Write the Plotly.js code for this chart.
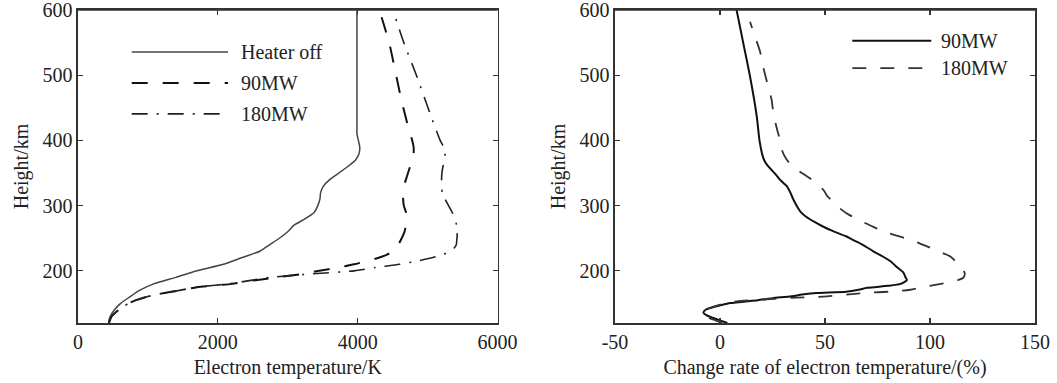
<!DOCTYPE html>
<html><head><meta charset="utf-8">
<script src="https://cdn.plot.ly/plotly-3.0.1.min.js"></script>
<style>html,body{margin:0;padding:0;background:#fff;overflow:hidden;width:1057px;height:383px;} #chart{width:1057px;height:383px;display:block;position:absolute;left:0;top:0;}</style>
</head><body><div id="chart"></div>
<script>
// ---- Left panel: electron temperature profiles ----
const heightOff = [120,125,130,140,150,160,170,180,190,200,210,220,230,240,250,260,270,280,290,300,310,320,330,340,350,360,370,380,390,400,410,420,600];
const tempOff   = [440,445,460,520,610,740,880,1080,1400,1700,2080,2340,2600,2740,2880,3000,3090,3250,3380,3430,3460,3470,3510,3600,3730,3860,3970,4020,4030,4010,3990,3990,3990];

const height90 = [120,130,140,145,150,155,160,165,170,175,180,185,190,195,200,205,210,215,220,225,230,240,250,260,270,280,290,300,310,320,330,340,350,360,370,380,390,400,420,460,500,550,600];
const temp90   = [443,480,580,650,720,830,980,1180,1450,1700,2200,2500,2850,3200,3450,3720,3950,4130,4300,4420,4510,4580,4630,4670,4690,4700,4690,4660,4650,4650,4660,4690,4720,4750,4780,4800,4800,4780,4725,4630,4550,4450,4310];

const height180 = [120,130,140,145,150,155,160,165,170,175,180,185,190,195,200,205,210,215,220,225,230,235,240,250,260,270,280,290,300,310,320,330,340,350,360,370,380,390,400,440,500,550,595];
const temp180   = [443,480,580,650,720,830,980,1180,1450,1700,2150,2450,2750,3300,3950,4250,4600,4850,5060,5220,5320,5380,5410,5420,5425,5415,5390,5350,5300,5250,5210,5200,5200,5205,5220,5245,5250,5230,5180,5040,4840,4660,4520];

// ---- Right panel: change rate of electron temperature ----
const heightRate90 = [120,124,128,132,136,140,143,147,150.6,155,158,161,164,166,168,171,174,177,180,186,191,197,205,215,222,230,240,248,253,262,268,275,283,290,300,309,320,330,340,348,355,362,370,380,400,437,498,549,600];
const rate90       = [3.5,0,-3.5,-6.5,-7.9,-7,-4.8,0,4.8,18,25,34,40,46,60,66,70,80,86,89,88.2,87.4,84.5,81,77.5,73,68,63,60,53,49,45,41,38.5,36.5,35,33.5,31.8,28.5,26.5,24.5,22.5,21,20,18.8,17.5,14.3,11.1,7.9];

const heightRate180 = [120,125,130,135,140,145,150,153,156,158.3,160.8,166,168.4,171,176,181,186,190,197,207,215,222,232,243,250,258,266,277,288,296,306,315,324,332,340,352,362,372,385,400,419,442,462,482,511,536,559,582];
const rate180       = [1,-3,-6.5,-8,-7,-3,2,8,20,31.8,50.9,68.3,82.6,90.6,98.5,106.5,113.6,116,116.5,114.4,112,109.7,102.5,94.5,88.2,80,74,66.7,60.4,57,54,51,49.3,46.5,43.7,38.1,34,31.5,29.5,28.6,27,25.4,24.6,23,20.7,19.1,16.7,14.3];

// ---- Axis ticks and labels ----
const tickTempVals = [0,2000,4000,6000];
const tickRateVals = [-50,0,50,100,150];
const tickRateText = ['-50','0','50','100','150'];
const tickHeightVals = [200,300,400,500,600];
const tickHeightText = ['200','300','400','500','600'];

const legendLeftNames = ['Heater off','90MW','180MW'];
const legendRightNames = ['90MW','180MW'];

const FONT = '"Liberation Serif", "Times New Roman", serif';
const TXT = '#222';
const FRAME = '#333';

const styleOff = {color:'#444', width:1.5, dash:'solid'};
const style90 = {color:'#111', width:2, dash:'16px,15px'};
const style180 = {color:'#222', width:1.6, dash:'16px,9px,2px,9px'};
const styleR90 = {color:'#111', width:2, dash:'solid'};
const styleR180 = {color:'#333', width:1.8, dash:'14px,14px'};

function tr(x, y, st, name, xa, ya) {
  return {x:x, y:y, type:'scatter', mode:'lines', name:name, xaxis:xa, yaxis:ya,
    line:Object.assign({shape:'spline', smoothing:0.6}, st), hoverinfo:'skip'};
}

const data = [
  tr(tempOff, heightOff, styleOff, legendLeftNames[0], 'x', 'y'),
  tr(temp90, height90, style90, legendLeftNames[1], 'x', 'y'),
  tr(temp180, height180, style180, legendLeftNames[2], 'x', 'y'),
  tr(rate90, heightRate90, styleR90, legendRightNames[0], 'x2', 'y2'),
  tr(rate180, heightRate180, styleR180, legendRightNames[1], 'x2', 'y2')
];

const axisCommon = {showline:true, mirror:'allticks', ticks:'inside', ticklen:5, tickwidth:1.3,
  tickcolor:FRAME, linecolor:FRAME, linewidth:1.6, showgrid:false, zeroline:false,
  tickfont:{family:FONT, size:20, color:TXT}, automargin:false, fixedrange:true,
  ticklabeloverflow:'allow'};

function ax(extra) { return Object.assign({}, axisCommon, extra); }

const shapes = [];
const annotations = [];
// top frame edges (paper-referenced so they are never clipped)
['x','x2'].forEach((xa)=>{
  shapes.push({type:'line', xref:xa+' domain', yref:'paper', x0:0, x1:1, y0:1, y1:1,
    line:{color:FRAME, width:1.6}, layer:'above'});
});
// custom legends (long line samples, like the original)
function legendRow(xref, yref, x0, x1, xt, yy, st, label) {
  shapes.push({type:'line', xref:xref+' domain', yref:yref+' domain', x0:x0, x1:x1, y0:yy, y1:yy,
    line:{color:st.color, width:st.width, dash:st.dash}});
  annotations.push({xref:xref+' domain', yref:yref+' domain', x:xt, y:yy, xanchor:'left', yanchor:'middle',
    text:label, showarrow:false, font:{family:FONT, size:20, color:TXT}});
}
const lStyles = [styleOff, style90, style180];
const lRows = [0.866, 0.767, 0.668];
legendLeftNames.forEach((n,i)=>legendRow('x','y',0.128,0.3576,0.3838,lRows[i],lStyles[i],n));
const rStyles = [styleR90, styleR180];
const rRows = [0.902, 0.814];
legendRightNames.forEach((n,i)=>legendRow('x2','y2',0.565,0.753,0.772,rRows[i],rStyles[i],n));

const layout = {
  width:1057, height:383,
  margin:{l:78, r:22, t:10, b:60, pad:0},
  paper_bgcolor:'#fff', plot_bgcolor:'#fff',
  showlegend:false,
  font:{family:FONT, size:20, color:TXT},
  xaxis: ax({domain:[0,0.43835], range:[0,6000], tickvals:tickTempVals, anchor:'y',
    title:{text:'Electron temperature/K', font:{family:FONT,size:20,color:TXT}, standoff:8}}),
  yaxis: ax({domain:[0,1], range:[120,600.05], tickvals:tickHeightVals, ticktext:tickHeightText, anchor:'x', ticklabelstandoff:0,
    title:{text:'Height/km', font:{family:FONT,size:20,color:TXT}, standoff:8}}),
  xaxis2: ax({domain:[0.56113,1], range:[-50,150], tickvals:tickRateVals, ticktext:tickRateText, anchor:'y2',
    title:{text:'Change rate of electron temperature/(%)', font:{family:FONT,size:20,color:TXT}, standoff:8}}),
  yaxis2: ax({domain:[0,1], range:[120,600.05], tickvals:tickHeightVals, ticktext:tickHeightText, anchor:'x2', ticklabelstandoff:0,
    title:{text:'Height/km', font:{family:FONT,size:20,color:TXT}, standoff:8}}),
  shapes:shapes,
  annotations:annotations
};

Plotly.newPlot('chart', data, layout, {staticPlot:true, displayModeBar:false});
</script>
</body></html>
